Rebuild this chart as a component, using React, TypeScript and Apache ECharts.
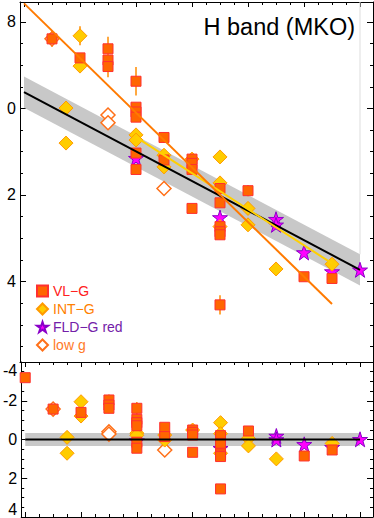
import React, { useEffect, useRef } from 'react';
import * as echarts from 'echarts';

const FONT = '"Liberation Sans", Arial, Helvetica, sans-serif';

// ---- data: [spectral-type offset, value] ----
const vlgTop = [[0,-3.57],[1,-1.61],[2,-1.17],[3,-1.38],[3,-1.12],[3,-0.97],[4,-0.63],[4,-0.03],[4,0.08],[4,0.20],[4,1.03],[4,1.41],[5,0.67],[5,1.19],[6,1.17],[6,1.27],[6,1.41],[6,2.31],[7,1.85],[7,2.18],[7,2.73],[7,2.85],[7,2.92],[7,4.54],[8,1.90],[10,3.89],[11,3.93]];
const intgTop = [[1.5,-0.01],[1.5,0.80],[2,-1.68],[2,-0.98],[4,0.61],[4,0.73],[5,1.08],[5,1.35],[6,1.17],[7,1.12],[7,1.72],[7,2.73],[8,2.31],[8,2.69],[9,3.71],[11,3.60]];
const fldgTop = [[4,1.15],[7,2.52],[9,2.56],[9,2.69],[10,3.33],[11,3.77],[12,3.73]];
const lowgTop = [[1,-1.61],[3,0.15],[3,0.33],[5,1.85]];
// [t, value, error]
const errTop = [[1,-1.61,0.18],[2,-1.68,0.22],[3,-1.38,0.28],[3,-0.97,0.25],[4,-0.63,0.33],[5,0.67,0.12],[5,1.08,0.12],[6,1.17,0.12],[6,2.31,0.1],[7,4.54,0.22],[8,1.90,0.13]];

const vlgRes = [[0,-3.19],[1,-1.57],[2,-1.40],[3,-2.04],[3,-1.78],[3,-1.61],[4,-1.61],[4,-1.04],[4,-0.87],[4,-0.71],[4,0.14],[4,0.45],[5,-0.63],[5,-0.15],[6,-0.49],[6,-0.37],[6,-0.23],[6,0.66],[7,-0.20],[7,0.20],[7,0.71],[7,0.80],[7,0.88],[7,2.55],[8,-0.44],[10,0.85],[11,0.54]];
const intgRes = [[1.5,-0.11],[1.5,0.71],[2,-1.95],[2,-1.21],[4,-0.33],[4,-0.22],[5,-0.23],[5,0.03],[6,-0.49],[7,-0.87],[7,-0.30],[7,0.71],[8,-0.06],[8,0.33],[9,1.00],[11,0.20]];
const fldgRes = [[4,0.06],[7,0.45],[9,-0.18],[9,0.00],[10,0.25],[11,0.40],[12,-0.01]];
const lowgRes = [[1,-1.57],[3,-0.40],[3,-0.28],[5,0.54]];
const errRes = [[1,-1.57,0.18],[2,-1.95,0.22],[3,-2.04,0.28],[3,-1.61,0.25],[4,-1.61,0.33],[5,-0.63,0.12],[5,-0.23,0.12],[6,-0.49,0.12],[6,0.66,0.1],[7,2.55,0.22],[8,-0.44,0.13]];

// fits
const fitT = [0, 12];
const fitTop = [-0.38, 3.73];
const bandTopUpper = [-0.74, 3.37];
const bandTopLower = [-0.02, 4.09];
const fitRes = [0, 0];
const bandResUpper = [-0.33, -0.33];
const bandResLower = [0.33, 0.33];
const intgFitT = [4, 11];
const intgFit = [0.66, 3.58];
const vlgFitT = [0, 11];
const vlgFit = [-2.43, 4.52];

// ticks
const xMajor = [0, 2, 4, 6, 8, 10, 12];
const xMinor = [0.5, 1, 1.5, 2.5, 3, 3.5, 4.5, 5, 5.5, 6.5, 7, 7.5, 8.5, 9, 9.5, 10.5, 11, 11.5];
const yTopMajor = [-2, 0, 2, 4];
const yTopMinor = [-1.5, -1, -0.5, 0.5, 1, 1.5, 2.5, 3, 3.5, 4.5, 5, 5.5];
const yResMajor = [-4, -2, 0, 2, 4];
const yResMinor = [-3.5, -3, -2.5, -1.5, -1, -0.5, 0.5, 1, 1.5, 2.5, 3, 3.5];

const X_MIN = -0.143, X_MAX = 12.464;
const Y_TOP_MIN = -2.462, Y_TOP_MAX = 5.861;

const STAR = 'path://M50,0 L61.8,35.4 L99,35.4 L69,57.3 L80.3,92.7 L50,70.8 L19.7,92.7 L31,57.3 L1,35.4 L38.2,35.4 Z';

const lineStyleBlack = { color: '#000', width: 1 };

function xAxesFor(grid: number, ticksTop: boolean, ticksBottom: boolean) {
  const mk = (position: string, values: number[], len: number, showLine: boolean) => ({
    type: 'value', gridIndex: grid, min: X_MIN, max: X_MAX, position,
    splitLine: { show: false }, axisLabel: { show: false },
    axisLine: { show: showLine, onZero: false, lineStyle: lineStyleBlack },
    axisTick: values.length ? { show: true, inside: true, length: len, customValues: values, lineStyle: lineStyleBlack } : { show: false },
  });
  return [
    mk('bottom', ticksBottom ? xMajor : [], 5, true),
    mk('bottom', ticksBottom ? xMinor : [], 3, false),
    mk('top', ticksTop ? xMajor : [], 5, true),
    mk('top', ticksTop ? xMinor : [], 3, false),
  ];
}

function yAxesFor(grid: number, min: number, max: number, major: number[], minor: number[], label: any) {
  const mk = (position: string, values: number[], len: number, showLine: boolean, lab: any) => ({
    type: 'value', gridIndex: grid, min, max, position, inverse: true,
    splitLine: { show: false },
    axisLabel: lab || { show: false },
    axisLine: { show: showLine, onZero: false, lineStyle: lineStyleBlack },
    axisTick: { show: true, inside: true, length: len, customValues: values, lineStyle: lineStyleBlack },
  });
  return [
    mk('left', major, 6, true, label),
    mk('left', minor, 3, false, null),
    mk('right', major, 6, true, null),
    mk('right', minor, 3, false, null),
  ];
}

const fmtTop = (v: number) => (v === -2 ? '8' : String(v));
const fmtRes = (v: number) => String(v);

function pointSeries(xi: number, yi: number, vlg: number[][], intg: number[][], fldg: number[][], lowg: number[][], err: number[][]) {
  const common = { type: 'scatter', xAxisIndex: xi, yAxisIndex: yi, silent: true, clip: true };
  return [
    {
      type: 'custom', xAxisIndex: xi, yAxisIndex: yi, silent: true, data: err,
      renderItem: (_p: any, api: any) => {
        const t = api.value(0), v = api.value(1), e = api.value(2);
        const a = api.coord([t, v - e]);
        const b = api.coord([t, v + e]);
        return { type: 'line', shape: { x1: a[0], y1: a[1], x2: b[0], y2: b[1] }, style: { stroke: '#ff8c00', lineWidth: 1.5 } };
      },
    },
    { ...common, name: 'FLD−G red', data: fldg, symbol: STAR, symbolSize: 15,
      itemStyle: { color: '#ff00ff', borderColor: '#8a00c8', borderWidth: 1, opacity: 1 } },
    { ...common, name: 'low g', data: lowg, symbol: 'diamond', symbolSize: 14,
      itemStyle: { color: '#ffffff', borderColor: '#ff7018', borderWidth: 1.5, opacity: 1 } },
    { ...common, name: 'INT−G', data: intg, symbol: 'diamond', symbolSize: 14,
      itemStyle: { color: '#ffcc00', borderColor: '#ff9a00', borderWidth: 1, opacity: 1 } },
    { ...common, name: 'VL−G', data: vlg, symbol: 'rect', symbolSize: 10,
      itemStyle: { color: '#ff6600', borderColor: '#ff3030', borderWidth: 1, opacity: 1 } },
  ];
}

function bandSeries(xi: number, yi: number, upper: number[], lower: number[]) {
  return {
    type: 'custom', xAxisIndex: xi, yAxisIndex: yi, silent: true, data: [[fitT[0], upper[0]]],
    renderItem: (_p: any, api: any) => {
      const pts = [
        api.coord([fitT[0], upper[0]]), api.coord([fitT[1], upper[1]]),
        api.coord([fitT[1], lower[1]]), api.coord([fitT[0], lower[0]]),
      ];
      return { type: 'polygon', shape: { points: pts }, style: { fill: '#c8c8c8' } };
    },
  };
}

const lineS = (xi: number, yi: number, xs: number[], ys: number[], color: string, width: number) => ({
  type: 'line', xAxisIndex: xi, yAxisIndex: yi, silent: true, symbol: 'none', clip: true,
  data: xs.map((x, i) => [x, ys[i]]), lineStyle: { color, width },
});

const option: any = {
  animation: false,
  grid: [
    { left: 20, right: 1, top: 2, height: 360 },
    { left: 20, right: 1, top: 362, height: 155 },
  ],
  xAxis: [...xAxesFor(0, true, false), ...xAxesFor(1, true, true)],
  yAxis: [
    ...yAxesFor(0, Y_TOP_MIN, Y_TOP_MAX, yTopMajor, yTopMinor, {
      show: true, customValues: yTopMajor, formatter: fmtTop, fontSize: 16, fontFamily: FONT, color: '#000', margin: 4,
    }),
    ...yAxesFor(1, -4, 4, yResMajor, yResMinor, {
      show: true, customValues: yResMajor, formatter: fmtRes, fontSize: 16, fontFamily: FONT, color: '#000', margin: 4,
      verticalAlignMinLabel: 'top', verticalAlignMaxLabel: 'bottom',
    }),
  ],
  legend: {
    orient: 'vertical', left: 36, top: 284, padding: 0, itemWidth: 11, itemHeight: 11, itemGap: 4,
    selectedMode: false,
    textStyle: { fontSize: 14, fontFamily: FONT, lineHeight: 12 },
    data: [
      { name: 'VL−G', textStyle: { color: '#ff2020' } },
      { name: 'INT−G', textStyle: { color: '#ff8000' } },
      { name: 'FLD−G red', textStyle: { color: '#7320a8' } },
      { name: 'low g', textStyle: { color: '#ff7a28' } },
    ],
  },
  graphic: [
    { type: 'text', right: 19, top: 15, silent: true,
      style: { text: 'H band (MKO)', fontSize: 23.5, fontFamily: FONT, fill: '#000' } },
  ],
  series: [
    bandSeries(0, 0, bandTopUpper, bandTopLower),
    lineS(0, 0, [fitT[1], fitT[1]], [Y_TOP_MIN, bandTopUpper[1]], '#dddddd', 1),
    lineS(0, 0, fitT, fitTop, '#000000', 2),
    lineS(0, 0, intgFitT, intgFit, '#ffd000', 2),
    lineS(0, 0, vlgFitT, vlgFit, '#ff7a00', 2),
    ...pointSeries(0, 0, vlgTop, intgTop, fldgTop, lowgTop, errTop),
    bandSeries(4, 4, bandResUpper, bandResLower),
    lineS(4, 4, fitT, fitRes, '#000000', 2),
    ...pointSeries(4, 4, vlgRes, intgRes, fldgRes, lowgRes, errRes),
  ],
};

export default function App() {
  const ref = useRef<HTMLDivElement>(null);
  useEffect(() => {
    const chart = echarts.init(ref.current!, null, { renderer: 'svg' });
    chart.setOption(option);
    return () => chart.dispose();
  }, []);
  return <div ref={ref} style={{ position: 'absolute', left: 0, top: 0, width: 374, height: 518 }} />;
}
